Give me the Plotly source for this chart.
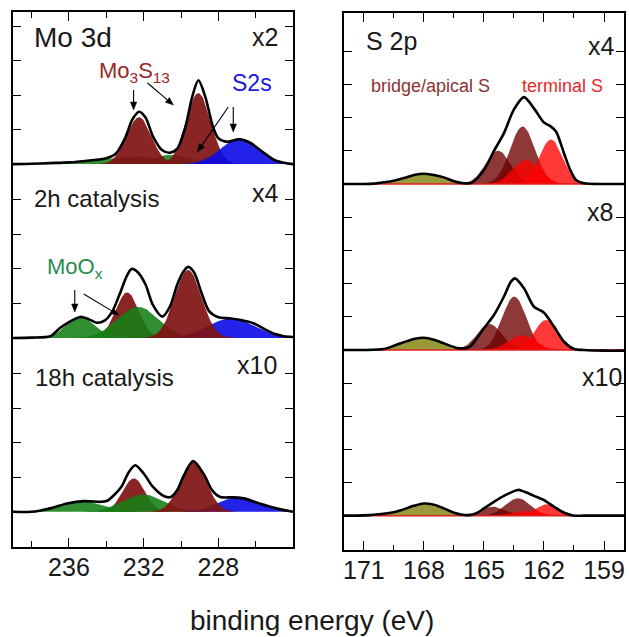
import numpy as np
import plotly.graph_objects as go

W, H = 629, 637
FONT = "Liberation Sans, Arial, sans-serif"

# ---------------- Mo 3d column (left) ----------------
mo_range = [239, 224]
mo_major = [236, 232, 228]

# measured spectra (binding energy, intensity above each offset baseline)
mo1_E = [239, 238, 237, 236, 235, 234, 233.5, 233, 232.6, 232.25, 231.9, 231.5, 231, 230.6, 230.2,
         229.8, 229.4, 229.07, 228.7, 228.3, 228, 227.5, 226.9, 226.3, 225.7, 225, 224.5, 224]
mo1_I = [0, 0.01, 0.03, 0.05, 0.1, 0.17, 0.3, 0.75, 1.3, 1.52, 1.35, 0.8, 0.4, 0.33, 0.45,
         1.0, 1.95, 2.43, 1.95, 1.1, 0.75, 0.65, 0.72, 0.62, 0.38, 0.12, 0.04, 0]
mo2_E = [239, 238, 237, 236.5, 236, 235.4, 235, 234.5, 234.1, 233.7, 233.3, 232.9, 232.65, 232.3, 231.9,
         231.5, 231, 230.6, 230.2, 229.9, 229.62, 229.3, 228.9, 228.5, 228, 227.4, 226.8, 226.1, 225.5,
         225, 224.5, 224]
mo2_I = [0, 0.01, 0.05, 0.28, 0.46, 0.61, 0.56, 0.44, 0.5, 0.75, 1.25, 1.8, 2.0, 1.9, 1.55,
         0.95, 0.62, 0.9, 1.55, 1.9, 2.06, 1.9, 1.3, 0.78, 0.6, 0.57, 0.52, 0.42, 0.25,
         0.12, 0.05, 0.03]
mo3_E = [239, 238, 237, 236.1, 235.2, 234.3, 233.95, 233.2, 232.8, 232.45, 232, 231.5, 230.9, 230.55, 230.2,
         229.85, 229.35, 228.8, 228.34, 227.9, 227.2, 226.65, 225.8, 224.9, 224]
mo3_I = [0, 0, 0.1, 0.24, 0.31, 0.29, 0.32, 0.72, 1.15, 1.35, 1.11, 0.72, 0.45, 0.43, 0.63,
         1.05, 1.47, 1.11, 0.63, 0.43, 0.42, 0.39, 0.24, 0.1, 0]

# fitted components: (centre eV, height, sigma eV)
mo1_green = [(232.4, 0.22, 1.8), (230.5, 0.27, 1.05)]
mo1_cyan = [(228.6, 0.22, 0.55)]
mo1_mos = [(232.25, 1.36, 0.66), (229.07, 2.06, 0.66)]
mo1_s2s = [(226.85, 0.75, 1.0)]

mo2_mosA = [(232.88, 1.32, 0.62)]
mo2_green = [(235.37, 0.62, 0.75), (232.3, 0.9, 1.1)]
mo2_s2s = [(227.3, 0.57, 1.25)]
mo2_mosB = [(229.62, 1.97, 0.72)]

mo3_mosA = [(232.53, 0.97, 0.6)]
mo3_green = [(235.2, 0.31, 1.05), (232.0, 0.5, 1.1)]
mo3_s2s = [(226.9, 0.44, 1.05)]
mo3_mosB = [(229.35, 1.46, 0.7)]

# ---------------- S 2p column (right) ----------------
s_range = [172, 158]
s_major = [171, 168, 165, 162, 159]

s1_E = [172, 171, 170.5, 170, 169.5, 169, 168.5, 168, 167.5, 167, 166.5, 166, 165.6, 165, 164.5, 164,
        163.5, 163, 162.5, 162, 161.7, 161.4, 161, 160.7, 160.4, 160, 159, 158]
s1_I = [0, 0, 0.01, 0.05, 0.1, 0.18, 0.27, 0.31, 0.27, 0.2, 0.08, 0.02, 0.04, 0.42, 1.0, 1.54,
        2.26, 2.63, 2.29, 1.86, 1.76, 1.59, 0.93, 0.44, 0.12, 0.02, 0, 0]
s2_E = [172, 171, 170, 169.4, 168.5, 168, 167.5, 167, 166.4, 166, 165.7, 165.3, 165, 164.5, 164, 163.65,
        163.45, 163, 162.5, 162, 161.5, 161, 160.5, 160, 159, 158]
s2_I = [0, 0, 0.03, 0.15, 0.33, 0.37, 0.31, 0.2, 0.07, 0.05, 0.1, 0.4, 0.66, 1.06, 1.62, 2.07,
        2.17, 1.87, 1.31, 1.13, 0.71, 0.25, 0.03, 0, -0.02, -0.02]
s3_E = [172, 171, 170.5, 169.4, 168.5, 168, 167.5, 167, 166.4, 166, 165.5, 165, 164.5, 164, 163.3,
        163, 162.5, 162, 161.5, 161, 160.5, 160, 158]
s3_I = [0, 0.01, 0.03, 0.12, 0.3, 0.37, 0.33, 0.22, 0.07, 0.02, 0.04, 0.22, 0.42, 0.6, 0.78,
        0.73, 0.6, 0.47, 0.27, 0.09, 0, 0, 0]

s1_sulf = [(167.9, 0.31, 0.9)]
s1_bridge = [(164.3, 1.01, 0.62), (163.07, 1.74, 0.62)]
s1_term = [(162.9, 0.73, 0.66), (161.65, 1.35, 0.58)]
s2_sulf = [(168.0, 0.37, 0.9)]
s2_bridge = [(164.72, 0.79, 0.62), (163.48, 1.62, 0.6)]
s2_term = [(163.1, 0.45, 0.66), (161.9, 0.91, 0.58)]
s3_sulf = [(168.05, 0.35, 0.95)]
s3_bridge = [(164.55, 0.27, 0.62), (163.3, 0.53, 0.62)]
s3_term = [(162.9, 0.15, 0.62), (161.8, 0.35, 0.58)]

# stacking offsets (in tick units) and y ranges
mo_offsets = [11.1, 6.06, 1.02]
s_offsets = [11.09, 6.06, 1.04]
mo_yrange = [0, 15.51]
s_yrange = [0, 16.27]

C_MOS = "rgba(128,18,18,0.92)"
C_GREEN = "rgba(20,128,20,0.88)"
C_BLUE = "rgba(10,10,230,0.9)"
C_CYAN = "rgba(0,225,230,0.95)"
C_BRIDGE = "rgba(110,0,0,0.78)"
C_TERM = "rgba(255,0,0,0.78)"
C_SULF = "rgba(135,135,25,0.85)"

fig = go.Figure()


def add_comps(comps, color, off, rng, xa, ya):
    xs = np.linspace(rng[1], rng[0], 400)
    for c, h, s in comps:
        ys = off + h * np.exp(-(xs - c) ** 2 / (2 * s * s))
        m = ys > off + 0.004
        idx = np.where(m)[0]
        if len(idx) == 0:
            continue
        xx = xs[idx[0]:idx[-1] + 1]
        yy = ys[idx[0]:idx[-1] + 1]
        px_ = np.concatenate([xx, xx[::-1]])
        py_ = np.concatenate([yy, np.full(len(xx), off)])
        fig.add_trace(go.Scatter(x=px_, y=py_, fill="toself", fillcolor=color, mode="lines",
                                 line=dict(width=0), xaxis=xa, yaxis=ya, hoverinfo="skip",
                                 showlegend=False))


def add_env(E, I, off, xa, ya):
    fig.add_trace(go.Scatter(x=E, y=[off + v for v in I], mode="lines",
                             line=dict(color="black", width=2.6, shape="spline", smoothing=0.8),
                             xaxis=xa, yaxis=ya, showlegend=False, hoverinfo="skip"))


# left column
o1, o2, o3 = mo_offsets
add_comps(mo1_green, C_GREEN, o1, mo_range, "x", "y")
add_comps(mo1_cyan, C_CYAN, o1, mo_range, "x", "y")
add_comps(mo1_mos, C_MOS, o1, mo_range, "x", "y")
add_comps(mo1_s2s, C_BLUE, o1, mo_range, "x", "y")
add_env(mo1_E, mo1_I, o1, "x", "y")

add_comps(mo2_mosA, C_MOS, o2, mo_range, "x", "y")
add_comps(mo2_green, C_GREEN, o2, mo_range, "x", "y")
add_comps(mo2_s2s, C_BLUE, o2, mo_range, "x", "y")
add_comps(mo2_mosB, C_MOS, o2, mo_range, "x", "y")
add_env(mo2_E, mo2_I, o2, "x", "y")

add_comps(mo3_mosA, C_MOS, o3, mo_range, "x", "y")
add_comps(mo3_green, C_GREEN, o3, mo_range, "x", "y")
add_comps(mo3_s2s, C_BLUE, o3, mo_range, "x", "y")
add_comps(mo3_mosB, C_MOS, o3, mo_range, "x", "y")
add_env(mo3_E, mo3_I, o3, "x", "y")

# right column
for off, sulf, bri, ter, E, I in [(s_offsets[0], s1_sulf, s1_bridge, s1_term, s1_E, s1_I),
                                  (s_offsets[1], s2_sulf, s2_bridge, s2_term, s2_E, s2_I),
                                  (s_offsets[2], s3_sulf, s3_bridge, s3_term, s3_E, s3_I)]:
    add_comps(sulf, C_SULF, off, s_range, "x2", "y2")
    add_comps(bri, C_BRIDGE, off, s_range, "x2", "y2")
    add_comps(ter, C_TERM, off, s_range, "x2", "y2")
    fig.add_trace(go.Scatter(x=s_range, y=[off, off], mode="lines",
                             line=dict(color="rgb(225,30,30)", width=1.5),
                             xaxis="x2", yaxis="y2", showlegend=False, hoverinfo="skip"))
    add_env(E, I, off, "x2", "y2")


def px(x):
    return x / W


def py(y):
    return 1 - y / H


axis_common = dict(showline=True, linecolor="black", linewidth=1.5, mirror="ticks",
                   ticks="inside", tickcolor="black", tickwidth=1.2, showgrid=False,
                   zeroline=False, fixedrange=True)

mo_ticks = [o + k for o in mo_offsets for k in (1, 2, 3, 4)]
s_ticks = [o + k for o in s_offsets for k in (1, 2, 3, 4)]

fig.update_layout(
    width=W, height=H, margin=dict(l=0, r=0, t=0, b=0),
    paper_bgcolor="white", plot_bgcolor="white",
    font=dict(family=FONT, color="rgb(25,25,25)"),
    xaxis=dict(domain=[px(12), px(293)], range=mo_range, anchor="y",
               tickvals=mo_major, ticklen=9, tickfont=dict(size=25, family=FONT),
               ticklabelstandoff=-3,
               minor=dict(tick0=238, dtick=4, ticklen=6, ticks="inside", tickcolor="black",
                          tickwidth=1.2, showgrid=False),
               **axis_common),
    yaxis=dict(domain=[py(547), py(12)], range=mo_yrange, anchor="x",
               tickvals=mo_ticks, showticklabels=False, ticklen=8, **axis_common),
    xaxis2=dict(domain=[px(344), px(625)], range=s_range, anchor="y2",
                tickvals=s_major, ticklen=9, tickfont=dict(size=25, family=FONT),
                ticklabelstandoff=-3,
                minor=dict(tick0=169.5, dtick=3, ticklen=5, ticks="inside", tickcolor="black",
                           tickwidth=1.2, showgrid=False),
                **axis_common),
    yaxis2=dict(domain=[py(550), py(13)], range=s_yrange, anchor="x2",
                tickvals=s_ticks, showticklabels=False, ticklen=8, **axis_common),
)

ann = []


def text(t, x, y, size, color="rgb(25,25,25)", xanchor="left"):
    ann.append(dict(text=t, x=px(x), y=py(y), xref="paper", yref="paper", showarrow=False,
                    xanchor=xanchor, yanchor="middle", font=dict(size=size, color=color, family=FONT)))


text("Mo 3d", 31, 37, 28)
text("x2", 280, 37, 25, xanchor="right")
text("Mo<sub>3</sub>S<sub>13</sub>", 96, 72, 22, color="rgb(150,40,40)")
text("S2s", 252, 83, 23, color="rgb(25,25,225)", xanchor="center")
text("2h catalysis", 31, 198, 24)
text("x4", 281, 193, 25, xanchor="right")
text("MoO<sub>x</sub>", 44, 268, 22, color="rgb(40,140,80)")
text("18h catalysis", 32, 377, 24)
text("x10", 279, 365, 25, xanchor="right")
text("S 2p", 364, 41, 25)
text("x4", 618, 46, 25, xanchor="right")
text("bridge/apical S", 369, 86, 18, color="rgb(140,50,50)")
text("terminal S", 521, 86, 18, color="rgb(230,40,40)")
text("x8", 616, 212, 25, xanchor="right")
text("x10", 625, 377, 25, xanchor="right")
text("binding energy (eV)", 312, 620, 28, xanchor="center")

fig.update_layout(annotations=ann)

# pointer arrows (tail pixel, tip pixel) drawn as shapes
arrows = [((133, 90), (133, 110)), ((147, 83), (173, 105)), ((228, 107), (197, 152)),
          ((233, 107), (233, 132)), ((74, 290), (74, 312)), ((83, 294), (118, 315))]
shapes = []
for (x0, y0), (x1, y1) in arrows:
    d = np.hypot(x1 - x0, y1 - y0)
    ux, uy = (x1 - x0) / d, (y1 - y0) / d
    L, Wd = 8, 3.2
    bx, by = x1 - ux * L, y1 - uy * L
    shapes.append(dict(type="line", xref="paper", yref="paper", x0=px(x0), y0=py(y0),
                       x1=px(bx), y1=py(by), line=dict(color="black", width=1.1)))
    pts = [(x1, y1), (bx - uy * Wd, by + ux * Wd), (bx + uy * Wd, by - ux * Wd)]
    path = "M " + " L ".join(f"{px(a):.5f},{py(b):.5f}" for a, b in pts) + " Z"
    shapes.append(dict(type="path", xref="paper", yref="paper", path=path,
                       fillcolor="black", line=dict(color="black", width=0.5)))
fig.update_layout(shapes=shapes)

fig.write_html("out.html")
